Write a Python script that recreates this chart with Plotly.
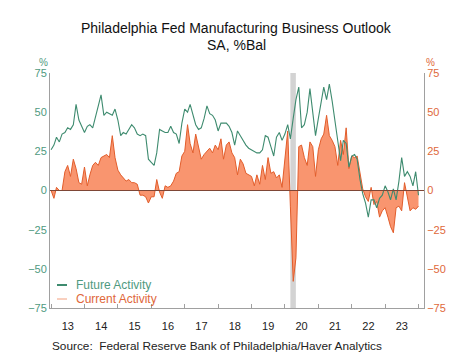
import pandas as pd
import plotly.graph_objects as go

# ---------------- data ----------------
start_month = "2013-01-01"

current_activity = [
    0, -5, 2, 0, 0, 12, 16, 9, 20, 14, 5, 4,          # 2013
    15, 3, 10, 16, 18, 16, 21, 22, 23, 21, 35, 21,    # 2014
    13, 10, 8, 6, 7, 5, 5, 4, -3, -3, -4, -8,         # 2015
    -4, -4, 7, -1, -5, 3, 2, 3, 6, 11, 12, 22,        # 2016
    25, 42, 30, 24, 36, 28, 20, 23, 25, 27, 24, 29,   # 2017
    26, 33, 20, 29, 31, 24, 21, 10, 20, 17, 11, 10,   # 2018
    9, 3, 10, 4, 16, 7, 21, 11, 12, 8, 10, 2,         # 2019
    18, 38, -10, -58, -43, 28, 29, 21, 16, 31, 28, 9, # 2020
    26, 33, 36, 48, 35, 32, 28, 16, 32, 23, 40, 14,   # 2021
    22, 21, 22, 12, 1, -4, -7, 2, -9, -7, -17, -13,   # 2022
    -11, -17, -23, -27, -11, -10, -13, 5, -5, -13, -11, -12,  # 2023
    -10,                                              # 2024
]

future_activity = [
    26, 29, 34, 31, 36, 37, 40, 39, 42, 55, 45, 41,   # 2013
    37, 41, 42, 40, 48, 54, 61, 48, 50, 49, 48, 52,   # 2014
    45, 35, 37, 36, 39, 42, 40, 36, 35, 36, 35, 20,   # 2015
    18, 16, 24, 39, 38, 37, 37, 41, 37, 36, 30, 43,   # 2016
    52, 50, 55, 49, 42, 39, 40, 46, 54, 49, 48, 45,   # 2017
    38, 43, 43, 43, 41, 37, 29, 38, 35, 32, 29, 27,   # 2018
    26, 25, 24, 24, 26, 35, 34, 28, 22, 34, 37, 32,   # 2019
    36, 42, 33, 46, 58, 66, 40, 42, 50, 65, 50, 35,   # 2020
    46, 57, 66, 58, 68, 57, 45, 31, 19, 32, 30, 15,   # 2021
    22, 23, 20, 7, -2, -8, -17, -6, -6, -11, -5, -3,  # 2022
    3, -1, -6, 1, -6, 6, 21, 9, 12, 9, 3, 12,         # 2023
    -3,                                               # 2024
]

dates = pd.date_range(start_month, periods=len(current_activity), freq="MS")

recession = ["2020-03-01", "2020-04-30"]
y_ticks = [-75, -50, -25, 0, 25, 50, 75]
x_range = ["2012-12-20", "2024-03-01"]

title_line1 = "Philadelphia Fed Manufacturing Business Outlook"
title_line2 = "SA, %Bal"
source_text = "Source:  Federal Reserve Bank of Philadelphia/Haver Analytics"
series_names = ["Future Activity", "Current Activity"]

# ---------------- style ----------------
GREEN = "#3e8b6f"
GREEN_TXT = "#4f9a80"
ORANGE = "#e25d2b"
ORANGE_TXT = "#e0683a"
FILL = "#f9956f"
GRAY = "#a0a0a0"
FONT = "Liberation Sans, Arial, sans-serif"

W, H = 474, 355
L, R, T, B = 50, 50, 73, 47
PW, PH = W - L - R, H - T - B


def px(x):
    return (x - L) / PW


def py(y):
    return (H - B - y) / PH


fig = go.Figure()

fig.add_trace(go.Scatter(
    x=dates, y=current_activity, mode="lines", fill="tozeroy",
    fillcolor=FILL, line=dict(color=ORANGE, width=1), showlegend=False,
    hoverinfo="skip"))
fig.add_trace(go.Scatter(
    x=dates, y=future_activity, mode="lines",
    line=dict(color=GREEN, width=1.1), showlegend=False, hoverinfo="skip"))
# invisible trace to activate the right axis
fig.add_trace(go.Scatter(
    x=[dates[0]], y=[0], yaxis="y2", mode="markers",
    marker=dict(opacity=0), showlegend=False, hoverinfo="skip"))

shapes = [
    dict(type="rect", xref="x", yref="paper", x0=recession[0], x1=recession[1],
         y0=0, y1=1, fillcolor="#d3d3d3", line=dict(width=0), layer="below"),
    dict(type="line", xref="paper", yref="y", x0=0, x1=1, y0=0, y1=0,
         line=dict(color="#7e4636", width=1), layer="above"),
    # legend swatches
    dict(type="line", xref="paper", yref="paper", x0=px(57), x1=px(67),
         y0=py(285), y1=py(285), line=dict(color=GREEN, width=2)),
    dict(type="line", xref="paper", yref="paper", x0=px(57), x1=px(67),
         y0=py(299), y1=py(299), line=dict(color="#f3a07f", width=1)),
]

annotations = [
    dict(text=title_line1, x=px(236), y=py(28), xref="paper", yref="paper",
         showarrow=False, font=dict(size=14, color="#111", family=FONT),
         xanchor="center", yanchor="middle"),
    dict(text=title_line2, x=px(236), y=py(45), xref="paper", yref="paper",
         showarrow=False, font=dict(size=14, color="#111", family=FONT),
         xanchor="center", yanchor="middle"),
    dict(text="%", x=px(43), y=py(63), xref="paper", yref="paper",
         showarrow=False, font=dict(size=10, color=GREEN_TXT, family=FONT),
         xanchor="center", yanchor="middle"),
    dict(text="%", x=px(430), y=py(63), xref="paper", yref="paper",
         showarrow=False, font=dict(size=10, color=ORANGE_TXT, family=FONT),
         xanchor="center", yanchor="middle"),
    dict(text=series_names[0], x=px(74), y=py(285), xref="paper", yref="paper",
         showarrow=False, font=dict(size=12, color=GREEN_TXT, family=FONT),
         xanchor="left", yanchor="middle"),
    dict(text=series_names[1], x=px(74), y=py(299), xref="paper", yref="paper",
         showarrow=False, font=dict(size=12, color=ORANGE_TXT, family=FONT),
         xanchor="left", yanchor="middle"),
    dict(text=source_text, x=px(50), y=py(346), xref="paper", yref="paper",
         showarrow=False, font=dict(size=11.8, color="#222", family=FONT),
         xanchor="left", yanchor="middle"),
]

fig.update_layout(
    width=W, height=H, autosize=False,
    margin=dict(l=L, r=R, t=T, b=B, pad=0),
    paper_bgcolor="white", plot_bgcolor="white",
    font=dict(family=FONT, size=11, color="#222"),
    shapes=shapes, annotations=annotations,
    xaxis=dict(
        type="date", range=x_range, dtick="M12", tick0=start_month,
        tickformat="%y", ticklabelmode="period", ticks="inside", ticklen=4,
        tickcolor=GRAY, showline=True, linecolor=GRAY, linewidth=1,
        showgrid=False, zeroline=False, tickfont=dict(size=11, color="#222"),
        ticklabelstandoff=8),
    yaxis=dict(
        range=[-75, 75], tickvals=y_ticks, showline=True, linecolor=GRAY,
        linewidth=1, showgrid=False, zeroline=False, ticks="",
        tickfont=dict(size=11, color=GREEN_TXT)),
    yaxis2=dict(
        range=[-75, 75], tickvals=y_ticks, overlaying="y", side="right",
        showline=True, linecolor=GRAY, linewidth=1, showgrid=False,
        zeroline=False, ticks="", tickfont=dict(size=11, color=ORANGE_TXT)),
    showlegend=False,
)

fig.write_html(
    "out.html",
    config={"displayModeBar": False, "staticPlot": True},
    post_script="document.body.style.margin='0';document.body.style.overflow='hidden';",
)
